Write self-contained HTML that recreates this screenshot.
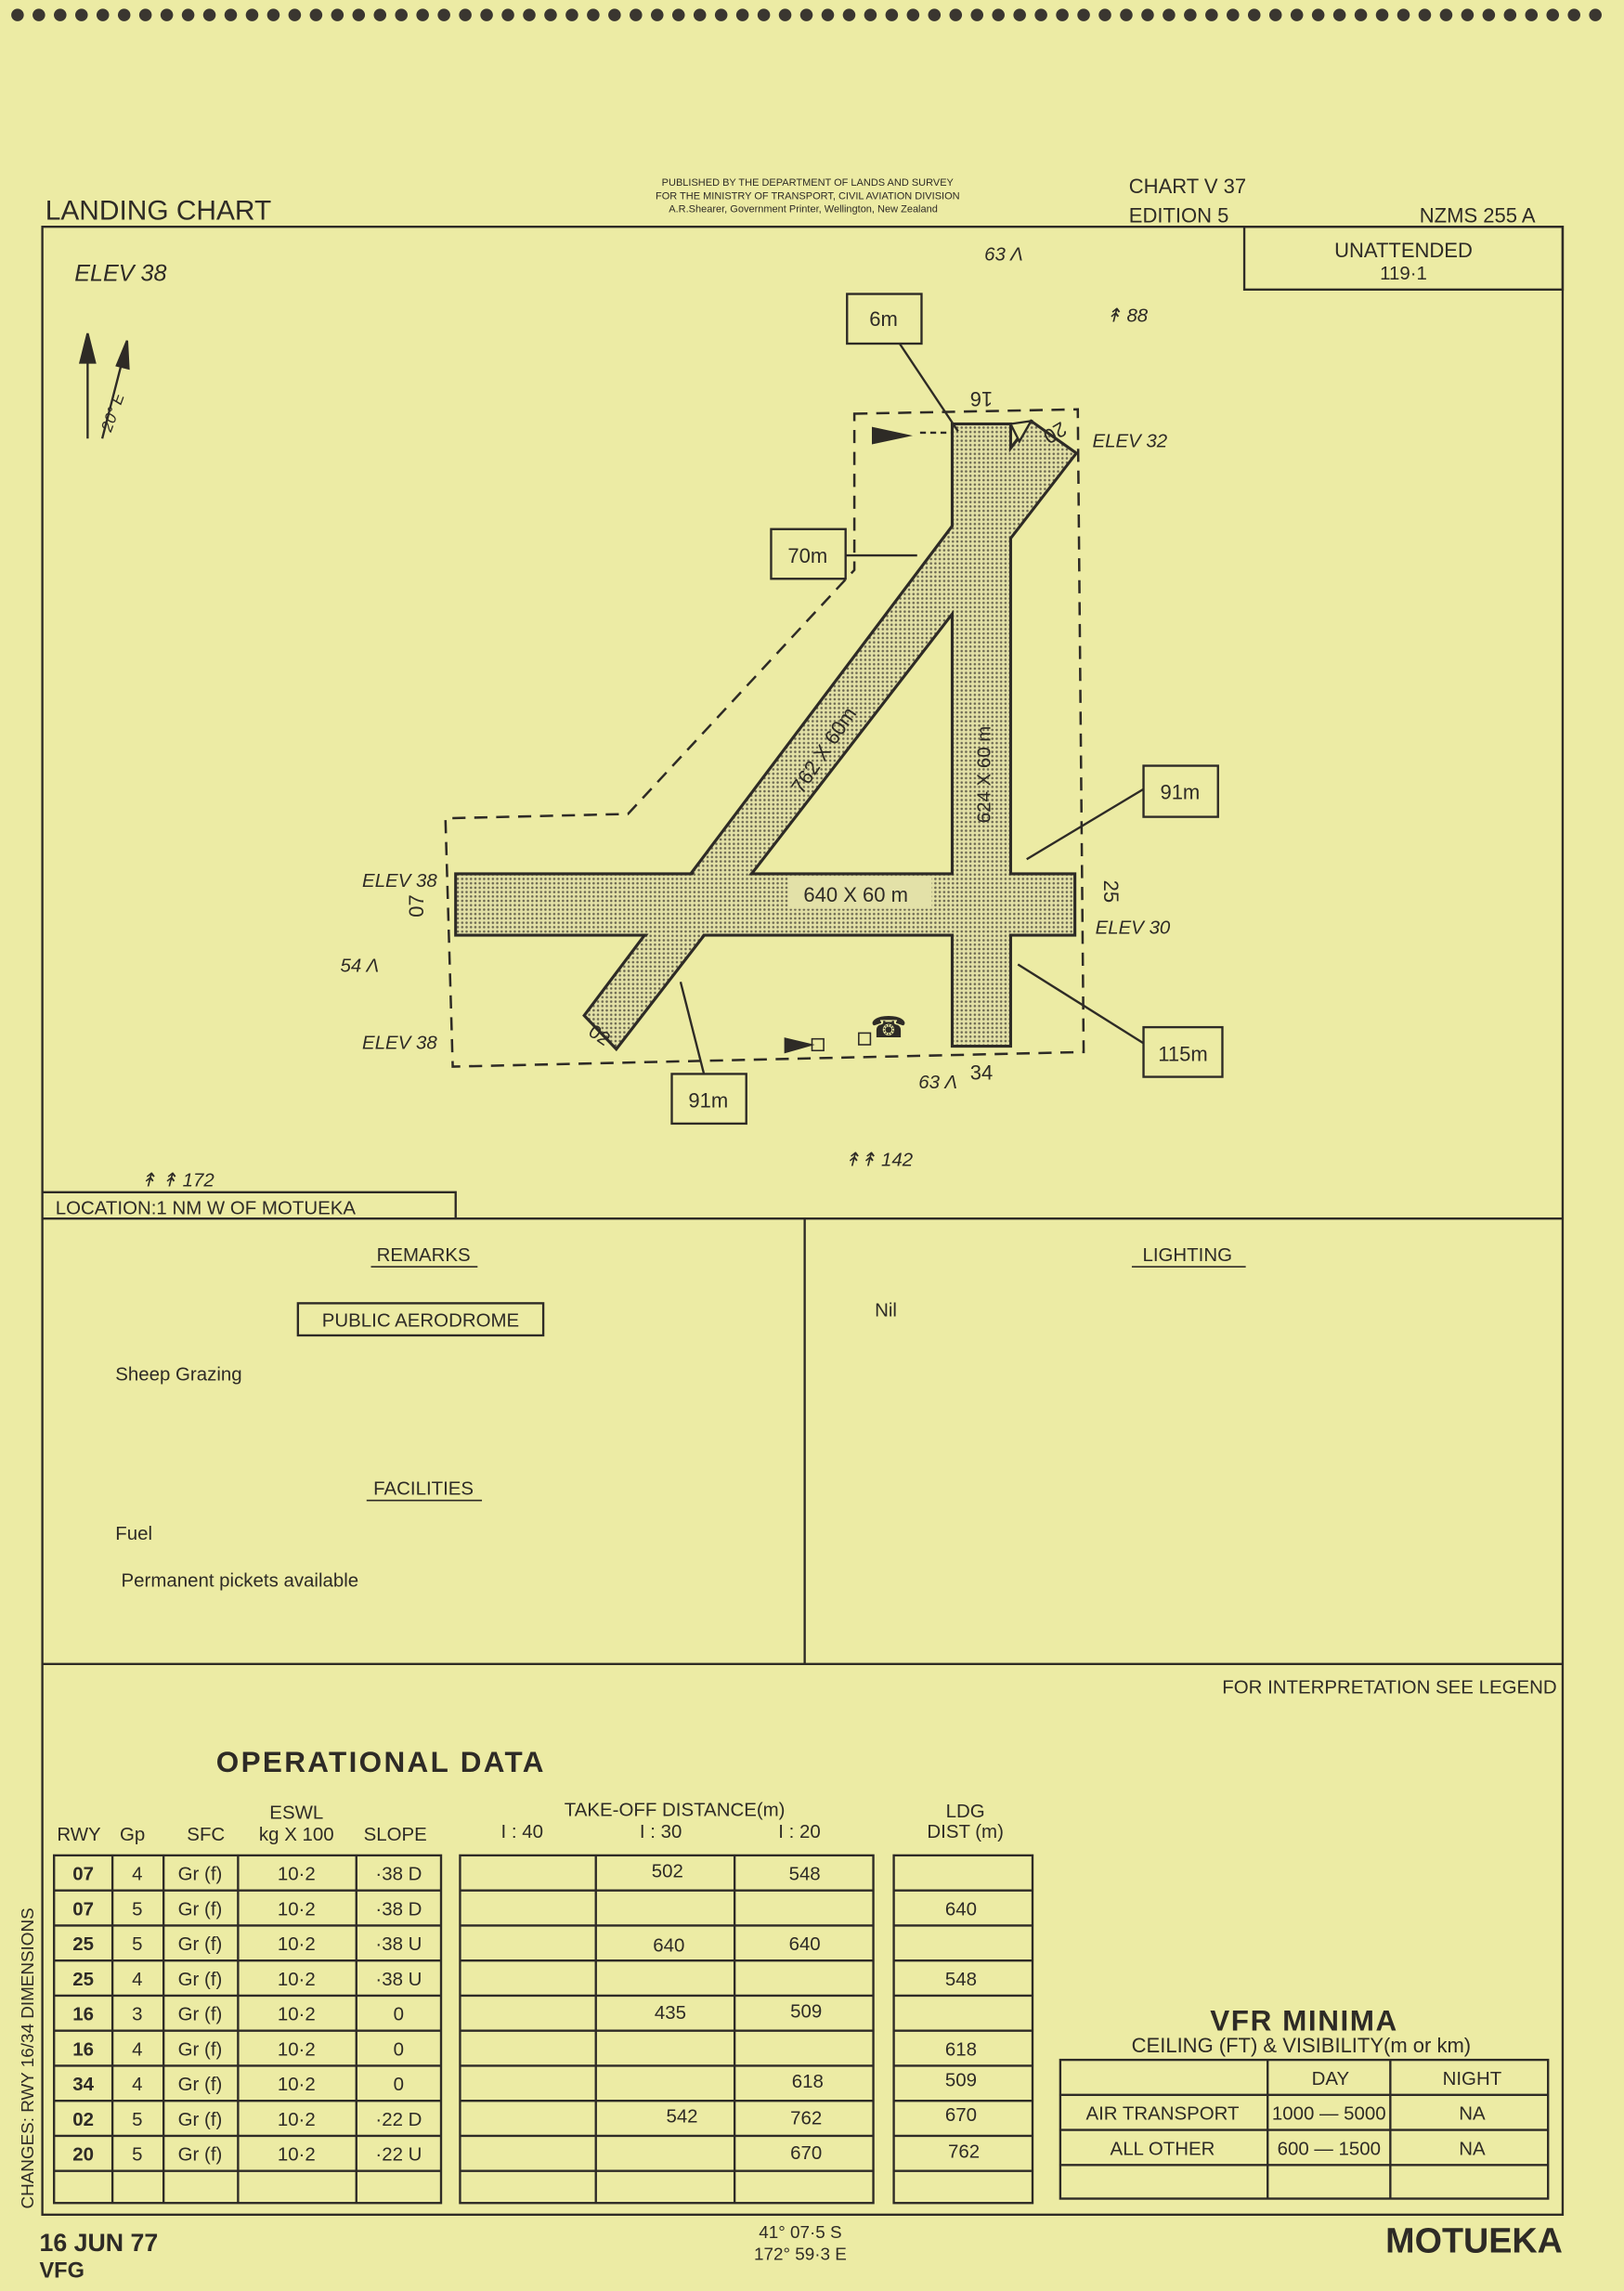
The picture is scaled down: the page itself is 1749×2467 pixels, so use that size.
<!DOCTYPE html>
<html><head><meta charset="utf-8"><style>
html,body{margin:0;padding:0;background:#eceba4;}
svg{display:block}
text{font-family:"Liberation Sans",sans-serif;fill:#2e2b26}
</style></head><body>
<svg width="1749" height="2467" viewBox="0 0 1112 1568" xmlns="http://www.w3.org/2000/svg">
<defs>
<pattern id="dots" width="3" height="3" patternUnits="userSpaceOnUse"><rect width="3" height="3" fill="#e2e0a6"/><circle cx="1.5" cy="1.5" r="0.8" fill="#6a6650"/></pattern>
</defs>
<rect width="1112" height="1568" fill="#eceba4"/>
<g fill="#3a3630" id="dotsrow"></g>
<script>
var g=document.getElementById('dotsrow');for(var x=12;x<1105;x+=14.6){var c=document.createElementNS('http://www.w3.org/2000/svg','circle');c.setAttribute('cx',x);c.setAttribute('cy',10);c.setAttribute('r',4.3);g.appendChild(c);}
</script>
<!-- header -->
<text x="31" y="150" font-size="19">LANDING CHART</text>
<text x="553" y="127" font-size="7" text-anchor="middle">PUBLISHED BY THE DEPARTMENT OF LANDS AND SURVEY</text>
<text x="553" y="136" font-size="7" text-anchor="middle">FOR THE MINISTRY OF TRANSPORT, CIVIL AVIATION DIVISION</text>
<text x="550" y="145" font-size="7" text-anchor="middle">A.R.Shearer, Government Printer, Wellington, New Zealand</text>
<text x="773" y="132" font-size="14">CHART V 37</text>
<text x="773" y="152" font-size="14">EDITION 5</text>
<text x="972" y="152" font-size="14">NZMS 255 A</text>
<g fill="none" stroke="#2e2b26" stroke-width="1.5">
<rect x="29" y="155" width="1041" height="1361"/>
<line x1="29" y1="834" x2="1070" y2="834"/>
<line x1="29" y1="1139" x2="1070" y2="1139"/>
<line x1="551" y1="834" x2="551" y2="1139"/>
<rect x="852" y="155" width="218" height="43"/>
<polyline points="29,816 312,816 312,834"/>
</g>
<text x="961" y="176" font-size="14" text-anchor="middle">UNATTENDED</text>
<text x="961" y="191" font-size="13" text-anchor="middle">119·1</text>
<text x="51" y="192" font-size="16" font-style="italic">ELEV 38</text>
<!-- north arrow -->
<g stroke="#2e2b26" stroke-width="1.5" fill="#2e2b26">
<line x1="60" y1="300" x2="60" y2="232"/><polygon points="55,248 60,228 65,248"/>
<line x1="70" y1="300" x2="86" y2="238"/><polygon points="80,250 87,233 88,252" />
</g>
<text x="0" y="0" font-size="11" font-style="italic" transform="translate(76,296) rotate(-70)">20° E</text>
<!-- dashed boundary -->
<polygon points="585,283 738,280 742,720 310,730 305,560 430,557 585,390" fill="none" stroke="#2e2b26" stroke-width="1.6" stroke-dasharray="9,6"/>
<!-- runways -->
<g stroke="#2e2b26" stroke-width="2" fill="url(#dots)">
<rect x="652" y="290" width="40" height="426"/>
<polygon points="400,695 706,288 737,310 422,718"/>
<rect x="312" y="598" width="424" height="42"/>
</g>
<g fill="url(#dots)">
<rect x="653" y="291" width="38" height="424"/>
<polygon points="402,695 707,290 735,311 422,716"/>
<rect x="313" y="599" width="422" height="40"/>
</g>
<polygon points="692,290 698,302 706,288" fill="#eceba4" stroke="#2e2b26" stroke-width="1.5"/>
<rect x="540" y="600" width="98" height="22" fill="#e3e1a8"/>
<text x="586" y="617" font-size="14" text-anchor="middle">640 X 60  m</text>
<text font-size="14" text-anchor="middle" transform="translate(568,516) rotate(-56)">762 X 60m</text>
<text font-size="13" text-anchor="middle" transform="translate(678,530) rotate(-90)">624 X 60 m</text>
<text font-size="14" text-anchor="middle" transform="translate(672,268) rotate(180)">16</text>
<text font-size="14" text-anchor="middle" transform="translate(720,292) rotate(150)">20</text>
<text font-size="14" text-anchor="middle" transform="translate(756,610) rotate(90)">25</text>
<text font-size="14" text-anchor="middle" transform="translate(290,620) rotate(-90)">07</text>
<text font-size="13" text-anchor="middle" transform="translate(408,712) rotate(35)">02</text>
<text x="672" y="739" font-size="14" text-anchor="middle">34</text>
<!-- callouts -->
<g fill="none" stroke="#2e2b26" stroke-width="1.5">
<rect x="580" y="201" width="51" height="34"/>
<rect x="528" y="362" width="51" height="34"/>
<rect x="783" y="524" width="51" height="35"/>
<rect x="783" y="703" width="54" height="34"/>
<rect x="460" y="735" width="51" height="34"/>
<line x1="616" y1="235" x2="656" y2="295"/>
<line x1="579" y1="380" x2="628" y2="380"/>
<line x1="783" y1="540" x2="703" y2="588"/>
<line x1="783" y1="714" x2="697" y2="660"/>
<line x1="482" y1="735" x2="466" y2="672"/>
<line x1="630" y1="296" x2="652" y2="296" stroke-dasharray="4,3"/>
</g>
<text x="605" y="223" font-size="14" text-anchor="middle">6m</text>
<text x="553" y="385" font-size="14" text-anchor="middle">70m</text>
<text x="808" y="547" font-size="14" text-anchor="middle">91m</text>
<text x="810" y="726" font-size="14" text-anchor="middle">115m</text>
<text x="485" y="758" font-size="14" text-anchor="middle">91m</text>
<polygon points="597,292 625,298 597,304" fill="#2e2b26"/>
<polygon points="537,710 558,715 537,721" fill="#2e2b26"/>
<rect x="556" y="711" width="8" height="8" fill="none" stroke="#2e2b26"/>
<rect x="588" y="707" width="8" height="8" fill="none" stroke="#2e2b26"/>
<text x="596" y="710" font-size="20">☎</text>
<g font-size="13" font-style="italic">
<text x="748" y="306">ELEV 32</text>
<text x="248" y="607">ELEV 38</text>
<text x="750" y="639">ELEV 30</text>
<text x="248" y="718">ELEV 38</text>
<text x="233" y="665">54 Λ</text>
<text x="629" y="745">63 Λ</text>
<text x="674" y="178">63 Λ</text>
<text x="757" y="220">↟ 88</text>
<text x="96" y="812">↟ ↟ 172</text>
<text x="578" y="798">↟↟ 142</text>
</g>
<text x="38" y="831" font-size="13">LOCATION:1 NM W OF MOTUEKA</text>
<!-- remarks -->
<g font-size="13">
<text x="290" y="863" text-anchor="middle">REMARKS</text>
<line x1="254" y1="867" x2="327" y2="867" stroke="#2e2b26"/>
<rect x="204" y="892" width="168" height="22" fill="none" stroke="#2e2b26" stroke-width="1.5"/>
<text x="288" y="908" text-anchor="middle">PUBLIC AERODROME</text>
<text x="79" y="945">Sheep Grazing</text>
<text x="290" y="1023" text-anchor="middle">FACILITIES</text>
<line x1="251" y1="1027" x2="330" y2="1027" stroke="#2e2b26"/>
<text x="79" y="1054">Fuel</text>
<text x="83" y="1086">Permanent pickets available</text>
<text x="813" y="863" text-anchor="middle">LIGHTING</text>
<line x1="775" y1="867" x2="853" y2="867" stroke="#2e2b26"/>
<text x="599" y="901">Nil</text>
<text x="1066" y="1159" text-anchor="end">FOR INTERPRETATION SEE LEGEND</text>
</g>
<text x="148" y="1213" font-size="20" font-weight="bold" letter-spacing="1.5">OPERATIONAL   DATA</text>
<text font-size="12" transform="translate(23,1512) rotate(-90)">CHANGES: RWY 16/34 DIMENSIONS</text>
<!-- table headers -->
<g font-size="13">
<text x="39" y="1260">RWY</text><text x="82" y="1260">Gp</text><text x="128" y="1260">SFC</text>
<text x="203" y="1245" text-anchor="middle">ESWL</text><text x="203" y="1260" text-anchor="middle">kg X 100</text>
<text x="249" y="1260">SLOPE</text>
<text x="462" y="1243" text-anchor="middle">TAKE-OFF DISTANCE(m)</text>
<text x="343" y="1258">I : 40</text><text x="438" y="1258">I : 30</text><text x="533" y="1258">I : 20</text>
<text x="661" y="1244" text-anchor="middle">LDG</text><text x="661" y="1258" text-anchor="middle">DIST (m)</text>
</g>
<g fill="none" stroke="#2e2b26" stroke-width="1.5">
<rect x="37" y="1270" width="265" height="238"/>
<rect x="315" y="1270" width="283" height="238"/>
<rect x="612" y="1270" width="95" height="238"/>
<path d="M77 1270V1508M112 1270V1508M163 1270V1508M244 1270V1508M408 1270V1508M503 1270V1508"/>
<path d="M37 1294H302M37 1318H302M37 1342H302M37 1366H302M37 1390H302M37 1414H302M37 1438H302M37 1462H302M37 1486H302"/>
<path d="M315 1294H598M315 1318H598M315 1342H598M315 1366H598M315 1390H598M315 1414H598M315 1438H598M315 1462H598M315 1486H598"/>
<path d="M612 1294H707M612 1318H707M612 1342H707M612 1366H707M612 1390H707M612 1414H707M612 1438H707M612 1462H707M612 1486H707"/>
<rect x="726" y="1410" width="334" height="95"/>
<path d="M726 1434H1060M726 1458H1060M726 1482H1060M868 1410V1505M952 1410V1505"/>
</g>
<g font-size="13" text-anchor="middle">
<g font-weight="bold">
<text x="57" y="1287">07</text><text x="57" y="1311">07</text><text x="57" y="1335">25</text><text x="57" y="1359">25</text><text x="57" y="1383">16</text><text x="57" y="1407">16</text><text x="57" y="1431">34</text><text x="57" y="1455">02</text><text x="57" y="1479">20</text>
</g>
<text x="94" y="1287">4</text><text x="94" y="1311">5</text><text x="94" y="1335">5</text><text x="94" y="1359">4</text><text x="94" y="1383">3</text><text x="94" y="1407">4</text><text x="94" y="1431">4</text><text x="94" y="1455">5</text><text x="94" y="1479">5</text>
<text x="137" y="1287">Gr (f)</text><text x="137" y="1311">Gr (f)</text><text x="137" y="1335">Gr (f)</text><text x="137" y="1359">Gr (f)</text><text x="137" y="1383">Gr (f)</text><text x="137" y="1407">Gr (f)</text><text x="137" y="1431">Gr (f)</text><text x="137" y="1455">Gr (f)</text><text x="137" y="1479">Gr (f)</text>
<text x="203" y="1287">10·2</text><text x="203" y="1311">10·2</text><text x="203" y="1335">10·2</text><text x="203" y="1359">10·2</text><text x="203" y="1383">10·2</text><text x="203" y="1407">10·2</text><text x="203" y="1431">10·2</text><text x="203" y="1455">10·2</text><text x="203" y="1479">10·2</text>
<text x="273" y="1287">·38 D</text><text x="273" y="1311">·38 D</text><text x="273" y="1335">·38 U</text><text x="273" y="1359">·38 U</text><text x="273" y="1383">0</text><text x="273" y="1407">0</text><text x="273" y="1431">0</text><text x="273" y="1455">·22 D</text><text x="273" y="1479">·22 U</text>
<text x="457" y="1285">502</text><text x="551" y="1287">548</text>
<text x="458" y="1336">640</text><text x="551" y="1335">640</text>
<text x="459" y="1382">435</text><text x="552" y="1381">509</text>
<text x="553" y="1429">618</text>
<text x="467" y="1453">542</text><text x="552" y="1454">762</text>
<text x="552" y="1478">670</text>
<text x="658" y="1311">640</text><text x="658" y="1359">548</text><text x="658" y="1407">618</text><text x="658" y="1428">509</text><text x="658" y="1452">670</text><text x="660" y="1477">762</text>
<text x="893" y="1390" font-size="20" font-weight="bold" letter-spacing="1">VFR  MINIMA</text>
<text x="891" y="1405" font-size="14">CEILING (FT) &amp; VISIBILITY(m or km)</text>
<text x="911" y="1427">DAY</text><text x="1008" y="1427">NIGHT</text>
<text x="796" y="1451">AIR TRANSPORT</text><text x="910" y="1451">1000 — 5000</text><text x="1008" y="1451">NA</text>
<text x="796" y="1475">ALL OTHER</text><text x="910" y="1475">600 — 1500</text><text x="1008" y="1475">NA</text>
</g>
<text x="27" y="1541" font-size="17" font-weight="bold">16 JUN 77</text>
<text x="27" y="1559" font-size="15" font-weight="bold">VFG</text>
<text x="548" y="1532" font-size="12" text-anchor="middle">41° 07·5 S</text>
<text x="548" y="1547" font-size="12" text-anchor="middle">172° 59·3 E</text>
<text x="1070" y="1542" font-size="24" font-weight="bold" text-anchor="end">MOTUEKA</text>
</svg>
</body></html>
